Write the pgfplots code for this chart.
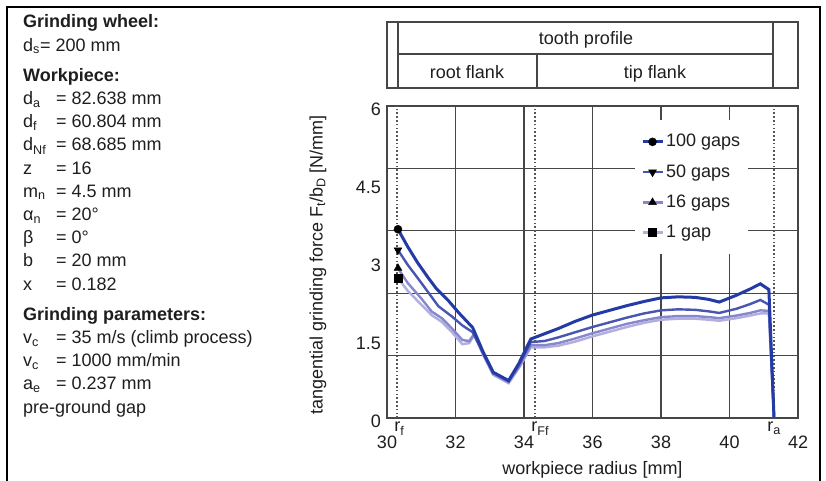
\documentclass[border=0pt]{standalone}
\usepackage{pgfplots}
\pgfplotsset{compat=1.18}
\usepackage{fontspec}
\setmainfont{Liberation Sans}
\definecolor{gridc}{RGB}{70,70,70}
\definecolor{dotc}{RGB}{85,85,85}
\definecolor{txt}{RGB}{30,30,30}
\definecolor{cA}{RGB}{36,58,165}
\definecolor{cB}{RGB}{72,86,178}
\definecolor{cC}{RGB}{135,135,205}
\definecolor{cD}{RGB}{178,175,224}
\newcommand{\fs}{\fontsize{18}{21}\selectfont}
\newcommand{\LT}[2]{\node[anchor=base west,inner sep=0pt] at (23,481-#1) {#2};}
\newcommand{\LP}[3]{\node[anchor=base west,inner sep=0pt] at (23,481-#1) {#2};\node[anchor=base west,inner sep=0pt] at (56,481-#1) {#3};}
\begin{document}
\fs
\begin{tikzpicture}[x=1pt,y=1pt,font=\fs,text=txt]
\path[use as bounding box] (0,0) rectangle (826,481);
% outer frame
\draw[line width=2.5pt,black] (7,-3) -- (7,474) -- (820,474) -- (820,-3);
% left text
\LT{28}{\bfseries Grinding wheel:}
\LT{51.2}{d\textsubscript{s}= 200 mm}
\LT{81.4}{\bfseries Workpiece:}
\LP{104.6}{d\textsubscript{a}}{= 82.638 mm}
\LP{127.8}{d\textsubscript{f}}{= 60.804 mm}
\LP{151}{d\textsubscript{Nf}}{= 68.685 mm}
\LP{174.2}{z}{= 16}
\LP{197.4}{m\textsubscript{n}}{= 4.5 mm}
\LP{220.6}{α\textsubscript{n}}{= 20°}
\LP{243.8}{β}{= 0°}
\LP{267}{b}{= 20 mm}
\LP{290.2}{x}{= 0.182}
\LT{320.4}{\bfseries Grinding parameters:}
\LP{343.6}{v\textsubscript{c}}{= 35 m/s (climb process)}
\LP{366.8}{v\textsubscript{c}}{= 1000 mm/min}
\LP{390}{a\textsubscript{e}}{= 0.237 mm}
\LT{413.2}{pre-ground gap}
% top table
\begin{scope}[line width=1.3pt,draw=gridc]
\draw (387,393) rectangle (798,459);
\draw (398,393) -- (398,459);
\draw (773,393) -- (773,459);
\draw (398,427) -- (773,427);
\draw (537,393) -- (537,427);
\end{scope}
\node[anchor=base,inner sep=0pt] at (586,436) {tooth profile};
\node[anchor=base,inner sep=0pt] at (467,402) {root flank};
\node[anchor=base,inner sep=0pt] at (655,402) {tip flank};
\begin{axis}[
  at={(387pt,63pt)}, anchor=south west,
  scale only axis, width=411pt, height=312pt,
  xmin=30, xmax=42, ymin=0, ymax=6,
  xtick={30,32,...,42}, ytick={0,1.5,3,4.5,6},
  major tick length=0pt,
  xmajorgrids=true, ymajorgrids=false,
  extra y ticks={1.2,2.4,3.6,4.8}, extra y tick labels={},
  extra y tick style={grid=major},
  grid style={line width=1.2pt,color=gridc},
  axis line style={line width=1.5pt,color=gridc},
  /pgf/number format/assume math mode=true,
  tick label style={font=\fs,text=txt},
  xticklabel style={yshift=-12pt},
  yticklabel style={yshift=-3pt},
  label style={font=\fs,text=txt},
  xlabel={workpiece radius [mm]},
  ylabel={tangential grinding force F\textsubscript{t}/b\textsubscript{D} [N/mm]},
  xlabel style={at={(axis description cs:0.5,-0.167)},anchor=center},
  ylabel style={at={(axis description cs:-0.168,0.49)},anchor=center},
  clip=false,
  reverse legend,
  legend style={draw=none,fill=white,at={(0.603,0.955)},anchor=north west,
    font=\fs,row sep=11pt,inner xsep=6pt,inner ysep=12pt},
  legend cell align=left,
  legend image code/.code={\draw[mark indices={2}] plot coordinates {(0pt,0pt) (10pt,0pt) (20pt,0pt)};},
]
% reference dotted lines
\addplot[forget plot,line width=1.7pt,color=dotc,dash pattern=on 1.6pt off 2.2pt] coordinates {(30.3,0) (30.3,6)};
\addplot[forget plot,line width=1.7pt,color=dotc,dash pattern=on 1.6pt off 2.2pt] coordinates {(34.33,0) (34.33,6)};
\addplot[forget plot,line width=1.7pt,color=dotc,dash pattern=on 1.6pt off 2.2pt] coordinates {(41.3,0) (41.3,6)};
% 1 gap
\addplot[color=cD,line width=2.5pt,mark=square*,mark size=4pt,mark indices={1},mark options={solid,fill=black,draw=black,line width=0.5pt}] coordinates {
(30.32,2.69) (30.6,2.45) (31.0,2.18) (31.3,1.98) (31.6,1.85) (31.9,1.65) (32.2,1.42) (32.4,1.44) (32.55,1.6) (32.8,1.22) (33.1,0.83) (33.55,0.67) (33.85,0.96) (34.2,1.36)
(34.6,1.36) (35.0,1.39) (35.5,1.47) (36.0,1.57) (36.5,1.66) (37.0,1.75) (37.5,1.83) (38.0,1.89) (38.5,1.91) (39.0,1.91) (39.4,1.89) (39.7,1.87) (40.2,1.92) (40.6,1.97) (40.9,2.01) (41.15,2.01) (41.3,0)};
\addlegendentry{1 gap}
% 16 gaps
\addplot[color=cC,line width=2.4pt,mark=triangle*,mark size=4.5pt,mark indices={1},mark options={solid,fill=black,draw=black,line width=0.5pt}] coordinates {
(30.32,2.88) (30.6,2.6) (31.0,2.3) (31.3,2.05) (31.6,1.92) (31.9,1.72) (32.2,1.5) (32.4,1.48) (32.55,1.62) (32.8,1.24) (33.1,0.85) (33.55,0.69) (33.85,0.98) (34.2,1.40)
(34.6,1.40) (35.0,1.44) (35.5,1.53) (36.0,1.63) (36.5,1.72) (37.0,1.81) (37.5,1.88) (38.0,1.94) (38.5,1.96) (39.0,1.96) (39.4,1.94) (39.7,1.92) (40.2,1.97) (40.6,2.02) (40.9,2.07) (41.15,2.06) (41.3,0)};
\addlegendentry{16 gaps}
% 50 gaps
\addplot[color=cB,line width=2.4pt,mark=triangle*,mark size=4.5pt,mark indices={1},mark options={solid,fill=black,draw=black,line width=0.5pt,rotate=180}] coordinates {
(30.32,3.23) (30.6,2.95) (31.0,2.6) (31.5,2.15) (31.9,1.95) (32.2,1.78) (32.5,1.65) (32.8,1.26) (33.1,0.87) (33.55,0.71) (33.85,1.02) (34.2,1.46)
(34.6,1.48) (35.0,1.55) (35.5,1.65) (36.0,1.75) (36.5,1.84) (37.0,1.93) (37.5,2.01) (38.0,2.07) (38.5,2.09) (39.0,2.08) (39.4,2.05) (39.7,2.02) (40.2,2.10) (40.6,2.19) (40.9,2.27) (41.15,2.18) (41.3,0)};
\addlegendentry{50 gaps}
% 100 gaps
\addplot[color=cA,line width=3pt,mark=*,mark size=4pt,mark indices={1},mark options={solid,fill=black,draw=black,line width=0.5pt}] coordinates {
(30.32,3.63) (30.6,3.3) (30.9,2.98) (31.2,2.7) (31.45,2.48) (31.8,2.25) (32.1,2.02) (32.5,1.74) (32.8,1.28) (33.1,0.88) (33.55,0.72) (33.85,1.05) (34.2,1.52)
(34.6,1.62) (35.0,1.72) (35.5,1.86) (36.0,1.98) (36.5,2.07) (37.0,2.16) (37.5,2.24) (38.0,2.31) (38.5,2.33) (39.0,2.32) (39.4,2.28) (39.7,2.23) (40.2,2.36) (40.6,2.48) (40.9,2.58) (41.15,2.47) (41.3,0)};
\addlegendentry{100 gaps}
% radius labels
\node[anchor=north,inner sep=0pt,yshift=-4pt,xshift=2pt] at (axis cs:30.3,0) {r\textsubscript{f}};
\node[anchor=north,inner sep=0pt,yshift=-4pt,xshift=5pt] at (axis cs:34.33,0) {r\textsubscript{Ff}};
\node[anchor=north,inner sep=0pt,yshift=-4pt] at (axis cs:41.3,0) {r\textsubscript{a}};
\end{axis}
\end{tikzpicture}
\end{document}
